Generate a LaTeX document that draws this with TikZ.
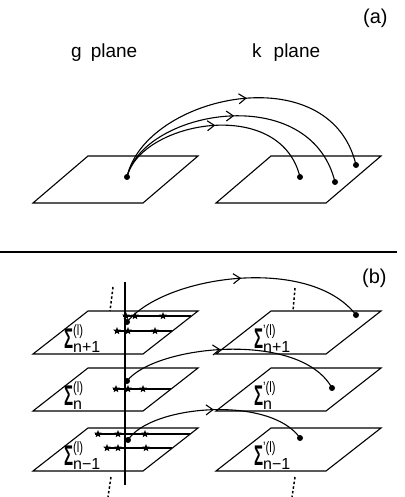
\documentclass[tikz,border=0pt]{standalone}
\usepackage{fontspec}
\setmainfont{Liberation Sans}
\usetikzlibrary{arrows.meta,decorations.markings,shapes.geometric}
\newcommand{\suplab}[1]{\raisebox{13pt}{\fontsize{15}{15}\selectfont\scalebox{0.75}[1]{#1(l)}}}
\newcommand{\siglab}[2]{\scalebox{1.0}[1.9]{\bfseries Σ}\rlap{\suplab{#1}}\raisebox{-4pt}{\fontsize{16}{16}\selectfont #2}}
\tikzset{
  planeedge/.style={line width=1.1pt, line join=miter},
  dotnode/.style={circle, fill=black, inner sep=0pt, minimum size=6pt},
  starnode/.style={star, star points=5, star point ratio=2.3, fill=black, inner sep=0pt, minimum size=8pt},
  flow/.style={line width=1.1pt, postaction={decorate},
    decoration={markings, mark=at position #1 with {\arrow{Straight Barb[length=7pt,width=10pt,line width=1.1pt]}}}},
  flow/.default=0.5,
  vdots/.style={line width=1.5pt, dash pattern=on 2.5pt off 2.2pt},
  starline/.style={line width=1.1pt},
  bigtext/.style={font=\fontsize{19}{19}\selectfont, anchor=base west, inner sep=0pt},
  lab/.style={anchor=base west, inner sep=0pt, font=\fontsize{15}{15}\selectfont}
}
\newcommand{\planeshape}[3]{% x0 (bottom-left x), top y, height
  \draw[planeedge] (#1+55,#2) -- (#1+165,#2) -- (#1+110,#2+#3) -- (#1,#2+#3) -- cycle;}
\begin{document}
\begin{tikzpicture}[x=1pt,y=-1pt]
\useasboundingbox (0,0) rectangle (404,497);
% ---------- (a) ----------
\node[bigtext, font=\fontsize{20}{20}\selectfont] (la) at (363,24) {(a)};
\node[bigtext] (gp) at (71,58) {g\hspace{9pt}plane};
\node[bigtext] (kp) at (252,58) {k\hspace{12pt}plane};
\planeshape{33}{156}{47}
\planeshape{216}{156}{47}
\node[dotnode] (s) at (127,177) {};
\node[dotnode] (t1) at (300,177) {};
\node[dotnode] (t2) at (335,182) {};
\node[dotnode] (t3) at (356,165) {};
\draw[flow=0.52] (s.center) .. controls (145,95) and (330,55) .. (t3.center);
\draw[flow=0.5] (s.center) .. controls (143,110) and (310,80) .. (t2.center);
\draw[flow=0.5] (s.center) .. controls (140,122) and (280,95) .. (t1.center);
% separator
\draw[line width=1.6pt] (0,252) -- (397,252);
% ---------- (b) ----------
\node[bigtext, font=\fontsize{20}{20}\selectfont] (lb) at (362,283) {(b)};
\planeshape{33}{311}{43}
\planeshape{33}{368}{43}
\planeshape{33}{428}{43}
\planeshape{216}{311}{43}
\planeshape{216}{368}{43}
\planeshape{216}{428}{43}
% vertical axis
\coordinate (vtop) at (125,282);
\coordinate (vbot) at (125,485);
\draw[line width=1.1pt] (vtop) -- (vbot);
% dotted continuations
\draw[vdots] (113,287) -- (110,311);
\draw[vdots] (111,477) -- (108,497);
\draw[vdots] (295,288) -- (293,311);
\draw[vdots] (295,477) -- (292,497);
% star lines, top plane
\draw[starline] (123,316) -- (191,316);
\draw[starline] (115,331) -- (172,331);
\foreach \x in {126,135,163} \node[starnode] at (\x,316) {};
\foreach \x in {117,128,155} \node[starnode] at (\x,331) {};
% middle plane
\draw[starline] (113,389) -- (171,389);
\foreach \x in {116,128,143} \node[starnode] at (\x,389) {};
% bottom plane
\draw[starline] (95,434) -- (190,434);
\draw[starline] (105,448) -- (172,448);
\foreach \x in {98,118,145} \node[starnode] at (\x,434) {};
\foreach \x in {107,118,146} \node[starnode] at (\x,448) {};
% labels
\node[lab] (l1) at (64,348) {\siglab{}{n+1}};
\node[lab] (l2) at (64,405) {\siglab{}{n}};
\node[lab] (l3) at (64,465) {\siglab{}{n−1}};
\node[lab] (r1) at (254,348) {\siglab{’}{n+1}};
\node[lab] (r2) at (254,405) {\siglab{’}{n}};
\node[lab] (r3) at (254,465) {\siglab{’}{n−1}};
% dots and maps
\node[dotnode] (a1) at (127,322) {};
\node[dotnode] (b1) at (356,315) {};
\node[dotnode] (a2) at (127,381) {};
\node[dotnode] (b2) at (332,388) {};
\node[dotnode] (a3) at (128,440) {};
\node[dotnode] (b3) at (300,438) {};
\draw[flow=0.5] (a1.center) .. controls (165,275) and (310,255) .. (b1.center);
\draw[flow=0.45] (a2.center) .. controls (155,345) and (300,330) .. (b2.center);
\draw[flow=0.5] (a3.center) .. controls (150,405) and (270,395) .. (b3.center);
\end{tikzpicture}
\end{document}
